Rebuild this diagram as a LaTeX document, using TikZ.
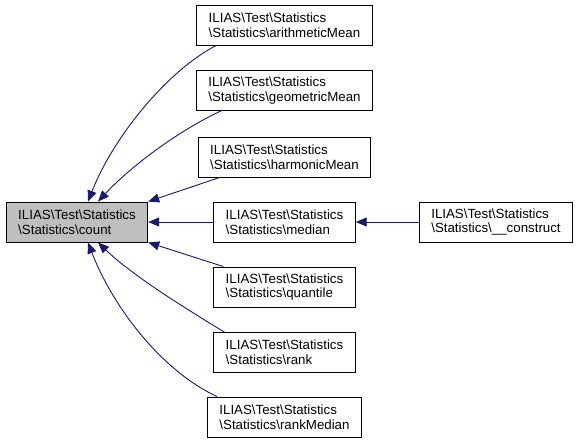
\documentclass[tikz,border=0pt]{standalone}
\usepackage{fontspec}
\setmainfont{Liberation Sans}
\usepackage{tikz}
\usetikzlibrary{positioning, arrows.meta}

\definecolor{edgeblue}{HTML}{191970}
\definecolor{hitgray}{HTML}{BFBFBF}
\newcommand{\bsl}{\textbackslash{}}

\begin{document}
\begin{tikzpicture}[x=1pt, y=-1pt,
    fnbox/.style={draw, line width=0.9pt, align=left, minimum height=40pt,
        inner xsep=12pt, inner ysep=3pt,
        font=\fontsize{13.3}{14.6}\selectfont},
    calledge/.style={draw=edgeblue, line width=0.9pt,
        -{Triangle[length=11pt, width=9pt]}, edgeblue}]
    \useasboundingbox (0,0) rectangle (579,444);
    \node[fnbox, fill=hitgray] (cnt) at (77,222) {ILIAS\bsl Test\bsl Statistics\\\bsl Statistics\bsl count};
    \foreach \fn/\ypos/\txt in {arith/25/arithmeticMean, geo/90.5/geometricMean, harm/157/harmonicMean,
        med/222/median, quant/287/quantile, rnk/352.5/rank, rnkmed/417/rankMedian}
    {
    \node[fnbox] (\fn) at (284.5,\ypos) {ILIAS\bsl Test\bsl Statistics\\\bsl Statistics\bsl \txt};
    }
    \node[fnbox] (ctor) at (496,222) {ILIAS\bsl Test\bsl Statistics\\\bsl Statistics\bsl \_\_construct};
    % callers of count
    \draw[calledge] ([xshift=20pt]arith.south west) .. controls (165,72) and (112,140) .. ([xshift=11pt]cnt.north);
    \draw[calledge] ([xshift=25pt]geo.south west) .. controls (180,130) and (132,165) .. ([xshift=21pt]cnt.north);
    \draw[calledge] ([xshift=22pt]harm.south west) -- (cnt.north east);
    \draw[calledge] (med.west) -- (cnt.east);
    \draw[calledge] ([xshift=10pt]quant.north west) -- (cnt.south east);
    \draw[calledge] ([xshift=11pt]rnk.north west) .. controls (180,305) and (132,275) .. ([xshift=21pt]cnt.south);
    \draw[calledge] ([xshift=10pt]rnkmed.north west) .. controls (160,370) and (112,305) .. ([xshift=11pt]cnt.south);
    \draw[calledge] (ctor.west) -- (med.east);
\end{tikzpicture}
\end{document}
